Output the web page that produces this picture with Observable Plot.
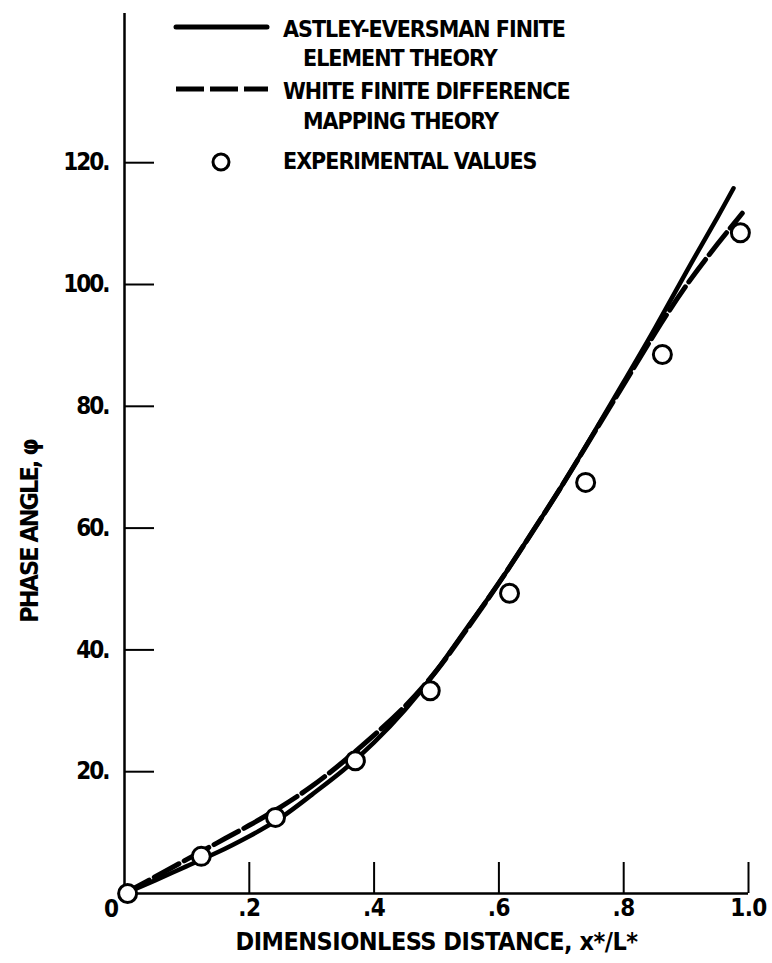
<!DOCTYPE html>
<html>
<head>
<meta charset="utf-8">
<script src="https://cdn.jsdelivr.net/npm/d3@7"></script>
<script src="https://cdn.jsdelivr.net/npm/@observablehq/plot@0.6"></script>
<style>
  html, body { margin: 0; padding: 0; background: #fff; }
  #wrap { position: relative; width: 772px; height: 963px; overflow: hidden;
    font-family: "DejaVu Sans Condensed", "DejaVu Sans", sans-serif; font-stretch: condensed; font-weight: bold; }
  #chart svg text { font-stretch: condensed; }
  #chart svg .ylab text { letter-spacing: -2px; }
  #chart svg .xlab text { letter-spacing: -0.5px; }
  #chart svg .xtitle text { letter-spacing: -0.5px; }
  #chart svg .ytitle text { letter-spacing: -2px; }
  .lg { position: absolute; font-size: 23px; line-height: 1; color: #000; white-space: nowrap; letter-spacing: -1px; }
  .lg.t { transform: translateY(-50%); }
  #legend svg { position: absolute; left: 0; top: 0; }
</style>
</head>
<body>
<div id="wrap">
  <div id="chart"></div>
  <div id="legend"></div>
</div>
<script>
// ---- Data ----
const xTicks = [0.2, 0.4, 0.6, 0.8, 1.0];
const xTickLabels = [".2", ".4", ".6", ".8", "1.0"];
const yTicks = [20, 40, 60, 80, 100, 120];
const yTickLabels = ["20.", "40.", "60.", "80.", "100.", "120."];

// Astley-Eversman finite element theory (solid)
const astleyX = [0, 0.05, 0.10, 0.15, 0.20, 0.25, 0.30, 0.35, 0.40, 0.45, 0.50, 0.55, 0.60, 0.65, 0.70, 0.75, 0.80, 0.85, 0.90, 0.95, 0.976];
const astleyY = [0, 2.2, 4.5, 6.8, 9.4, 12.4, 16.2, 20.2, 24.8, 30.2, 36.6, 43.8, 51.0, 58.8, 66.8, 75.3, 84.0, 92.8, 102.0, 111.0, 115.8];

// White finite difference mapping theory (dashed)
const whiteX = [0, 0.05, 0.10, 0.15, 0.20, 0.25, 0.30, 0.35, 0.40, 0.45, 0.50, 0.55, 0.60, 0.65, 0.70, 0.75, 0.80, 0.85, 0.90, 0.95, 0.99];
const whiteY = [0, 2.8, 5.6, 8.4, 11.2, 14.2, 17.6, 21.6, 26.0, 30.8, 36.6, 43.6, 51.0, 58.8, 66.8, 75.2, 83.6, 92.0, 99.8, 106.6, 111.7];

// Experimental values (circles)
const expX = [0.005, 0.123, 0.242, 0.370, 0.490, 0.617, 0.739, 0.862, 0.987];
const expY = [0.0, 6.1, 12.5, 21.8, 33.3, 49.3, 67.5, 88.5, 108.5];

const xLabel = "DIMENSIONLESS DISTANCE, x*/L*";
const yLabel = "PHASE ANGLE, \u03C6";
const legendItems = [
  ["ASTLEY-EVERSMAN FINITE", "ELEMENT THEORY"],
  ["WHITE FINITE DIFFERENCE", "MAPPING THEORY"],
  ["EXPERIMENTAL VALUES"]
];

// ---- Build tables ----
const astley = astleyX.map((x, i) => ({x, y: astleyY[i]}));
const white = whiteX.map((x, i) => ({x, y: whiteY[i]}));
const exp = expX.map((x, i) => ({x, y: expY[i]}));
const xLab = xTicks.map((x, i) => ({x, label: xTickLabels[i]}));
const yLab = yTicks.map((y, i) => ({y, label: yTickLabels[i]}));

const FONT = '"DejaVu Sans Condensed", "DejaVu Sans", sans-serif';

const chart = Plot.plot({
  width: 772,
  height: 963,
  marginLeft: 124,
  marginRight: 24,
  marginTop: 13,
  marginBottom: 70,
  style: {fontFamily: FONT, fontWeight: "bold", color: "#000", background: "#fff"},
  x: {domain: [0, 1], axis: null},
  y: {domain: [0, 144.5], axis: null},
  marks: [
    // axis lines
    Plot.ruleX([0], {stroke: "#000", strokeWidth: 2.5}),
    Plot.ruleY([0], {stroke: "#000", strokeWidth: 2.5}),
    // inward ticks
    Plot.axisY(yTicks, {anchor: "left", tickSize: -30, fill: "none", label: null, stroke: "#000", strokeWidth: 2}),
    Plot.axisX(xTicks, {anchor: "bottom", tickSize: -31, fill: "none", label: null, stroke: "#000", strokeWidth: 2}),
    // tick labels
    Plot.text(yLab, {x: 0, y: "y", text: "label", textAnchor: "end", dx: -16, dy: 0, fontSize: 24, fontWeight: "bold", fill: "#000", className: "ylab"}),
    Plot.text(xLab, {x: "x", text: "label", frameAnchor: "bottom", dy: 22, fontSize: 24, fontWeight: "bold", fill: "#000", className: "xlab"}),
    Plot.text(["0"], {x: 0, frameAnchor: "bottom", dx: -13, dy: 23, fontSize: 24, fontWeight: "bold", fill: "#000"}),
    // axis titles
    Plot.text([xLabel], {frameAnchor: "bottom", dy: 56, fontSize: 25, fontWeight: "bold", fill: "#000", className: "xtitle"}),
    Plot.text([yLabel], {frameAnchor: "left", textAnchor: "middle", rotate: -90, dx: -95, dy: 78, fontSize: 25, fontWeight: "bold", fill: "#000", className: "ytitle"}),
    // curves
    Plot.line(white, {x: "x", y: "y", curve: "natural", stroke: "#000", strokeWidth: 5, strokeDasharray: "28,6", strokeLinecap: "round"}),
    Plot.line(astley, {x: "x", y: "y", curve: "natural", stroke: "#000", strokeWidth: 4.5, strokeLinecap: "round"}),
    Plot.dot(exp, {x: "x", y: "y", r: 9, stroke: "#000", strokeWidth: 3, fill: "#fff"})
  ]
});
document.getElementById("chart").appendChild(chart);

// ---- Legend (HTML overlay) ----
const lg = document.getElementById("legend");
lg.innerHTML = `
<svg width="772" height="200">
  <line x1="176" y1="27" x2="267" y2="27" stroke="#000" stroke-width="5" stroke-linecap="round"/>
  <line x1="176" y1="89" x2="268" y2="89" stroke="#000" stroke-width="5" stroke-dasharray="28,6"/>
  <circle cx="221" cy="162" r="8" fill="#fff" stroke="#000" stroke-width="3"/>
</svg>
<div class="lg t" style="left:283px; top:29px">${legendItems[0][0]}</div>
<div class="lg t" style="left:303px; top:58px">${legendItems[0][1]}</div>
<div class="lg t" style="left:283px; top:91px">${legendItems[1][0]}</div>
<div class="lg t" style="left:303px; top:121px">${legendItems[1][1]}</div>
<div class="lg t" style="left:283px; top:161px">${legendItems[2][0]}</div>
`;
</script>
</body>
</html>
